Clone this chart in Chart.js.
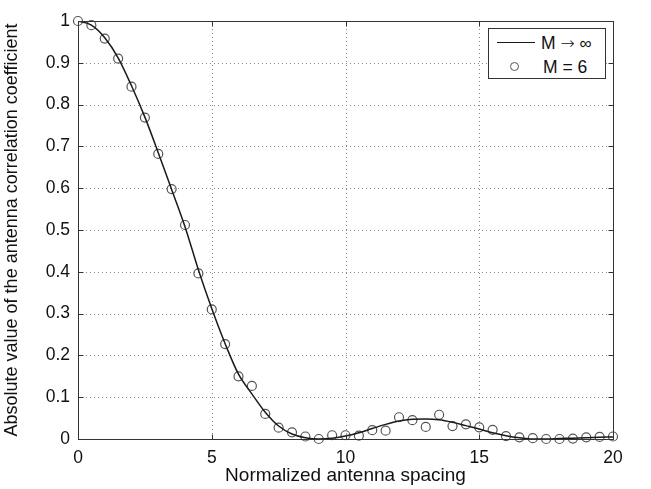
<!DOCTYPE html>
<html><head><meta charset="utf-8">
<script src="https://cdn.jsdelivr.net/npm/chart.js@4.4.0/dist/chart.umd.min.js"></script>
<style>
html,body{margin:0;padding:0;background:#fff;}
#wrap{position:relative;width:651px;height:489px;}
#legend{position:absolute;left:488px;top:28px;width:116px;height:49px;border:1px solid #333;background:#fff;font-family:"Liberation Sans",Arial,sans-serif;font-size:17.5px;color:#111;}
#legend .row{position:absolute;left:0;width:116px;height:22px;line-height:22px;white-space:nowrap;}
#legend .lineSample{position:absolute;left:8px;top:10px;width:38px;border-top:1.5px solid #1a1a1a;}
#legend .circ{position:absolute;left:21px;top:6px;width:7px;height:7px;border:1.2px solid #555;border-radius:50%;}
#legend .txt{position:absolute;left:52px;top:0;}
#legend .sym{font-family:"DejaVu Sans",sans-serif;font-size:17px;font-weight:300;}
</style></head>
<body>
<div id="wrap">
<canvas id="c" width="651" height="489"></canvas>
<div id="legend">
  <div class="row" style="top:3px;"><span class="lineSample"></span><span class="txt">M <span class="sym">→</span> <span class="sym">∞</span></span></div>
  <div class="row" style="top:27px;"><span class="circ"></span><span class="txt" style="left:54px;">M = 6</span></div>
</div>
</div>
<script>
const spacing = [0,0.5,1,1.5,2,2.5,3,3.5,4,4.5,5,5.5,6,6.5,7,7.5,8,8.5,9,9.5,10,10.5,11,11.5,12,12.5,13,13.5,14,14.5,15,15.5,16,16.5,17,17.5,18,18.5,19,19.5,20];
const corrInf = [1.0,0.99,0.96,0.912,0.845,0.77,0.685,0.597,0.508,0.405,0.312,0.228,0.155,0.108,0.064,0.031,0.012,0.003,0.0,0.002,0.007,0.015,0.025,0.035,0.043,0.047,0.048,0.046,0.040,0.032,0.024,0.015,0.008,0.003,0.0,0.0,0.001,0.002,0.003,0.004,0.005];
const corrM6 = [1.0,0.99,0.958,0.91,0.843,0.769,0.682,0.598,0.512,0.396,0.31,0.227,0.15,0.127,0.06,0.027,0.016,0.006,0.0,0.009,0.009,0.008,0.021,0.02,0.052,0.045,0.029,0.058,0.031,0.035,0.028,0.022,0.007,0.004,0.002,0.0,0.0,0.001,0.004,0.005,0.006];
const xTickLabels = ['0','5','10','15','20'];
const yTickLabels = ['0','0.1','0.2','0.3','0.4','0.5','0.6','0.7','0.8','0.9','1'];
const xTitle = 'Normalized antenna spacing';
const yTitle = 'Absolute value of the antenna correlation coefficient';

const FONT = '"Liberation Sans", Arial, sans-serif';

const boxPlugin = {
  id: 'boxPlugin',
  beforeDatasetsDraw(chart) {
    const {ctx, chartArea: a, scales: {x, y}} = chart;
    ctx.save();
    ctx.strokeStyle = '#8a8a8a';
    ctx.lineWidth = 1;
    ctx.setLineDash([1, 3]);
    x.ticks.forEach(t => {
      if (t.value <= x.min || t.value >= x.max) return;
      const px = Math.round(x.getPixelForValue(t.value)) + 0.5;
      ctx.beginPath(); ctx.moveTo(px, a.top); ctx.lineTo(px, a.bottom); ctx.stroke();
    });
    y.ticks.forEach(t => {
      if (t.value <= y.min + 1e-9 || t.value >= y.max - 1e-9) return;
      const py = Math.round(y.getPixelForValue(t.value)) + 0.5;
      ctx.beginPath(); ctx.moveTo(a.left, py); ctx.lineTo(a.right, py); ctx.stroke();
    });
    ctx.restore();
  },
  afterDatasetsDraw(chart) {
    const {ctx, chartArea: a, scales: {x, y}} = chart;
    ctx.save();
    ctx.strokeStyle = '#333';
    ctx.lineWidth = 1;
    ctx.setLineDash([]);
    const L = Math.round(a.left) + 0.5, R = Math.round(a.right) + 0.5;
    const T = Math.round(a.top) + 0.5, B = Math.round(a.bottom) + 0.5;
    ctx.strokeRect(L, T, R - L, B - T);
    const tl = 5;
    x.ticks.forEach(t => {
      const px = Math.round(x.getPixelForValue(t.value)) + 0.5;
      ctx.beginPath(); ctx.moveTo(px, B); ctx.lineTo(px, B - tl); ctx.stroke();
      ctx.beginPath(); ctx.moveTo(px, T); ctx.lineTo(px, T + tl); ctx.stroke();
    });
    y.ticks.forEach(t => {
      const py = Math.round(y.getPixelForValue(t.value)) + 0.5;
      ctx.beginPath(); ctx.moveTo(L, py); ctx.lineTo(L + tl, py); ctx.stroke();
      ctx.beginPath(); ctx.moveTo(R, py); ctx.lineTo(R - tl, py); ctx.stroke();
    });
    ctx.restore();
  }
};

new Chart(document.getElementById('c'), {
  type: 'line',
  data: {
    datasets: [
      {
        label: 'M → ∞',
        data: spacing.map((s, i) => ({x: s, y: corrInf[i]})),
        borderColor: '#1a1a1a',
        borderWidth: 1.5,
        pointRadius: 0,
        fill: false,
        cubicInterpolationMode: 'monotone'
      },
      {
        label: 'M = 6',
        data: spacing.map((s, i) => ({x: s, y: corrM6[i]})),
        showLine: false,
        pointStyle: 'circle',
        pointRadius: 4.5,
        pointBorderWidth: 1.2,
        pointBorderColor: '#555',
        pointBackgroundColor: 'rgba(0,0,0,0)',
        clip: false
      }
    ]
  },
  options: {
    responsive: false,
    animation: false,
    events: [],
    layout: {padding: {left: 0, right: 38, top: 21, bottom: 0}},
    plugins: {legend: {display: false}, tooltip: {enabled: false}},
    scales: {
      x: {
        type: 'linear', min: 0, max: 20,
        grid: {display: false, drawTicks: false},
        border: {display: false},
        ticks: {
          stepSize: 5, padding: 9, color: '#111', maxRotation: 0,
          font: {family: FONT, size: 17.5},
          callback: (v, i) => xTickLabels[i]
        },
        title: {display: true, text: xTitle, color: '#111', font: {family: FONT, size: 19}, padding: {top: 0, bottom: 2}},
        afterFit: s => { s.height = 50; }
      },
      y: {
        type: 'linear', min: 0, max: 1,
        grid: {display: false, drawTicks: false},
        border: {display: false},
        ticks: {
          stepSize: 0.1, padding: 8, color: '#111',
          font: {family: FONT, size: 17.5},
          callback: (v, i) => yTickLabels[i]
        },
        title: {display: true, text: yTitle, color: '#111', font: {family: FONT, size: 18}, padding: {top: 1, bottom: 0}},
        afterFit: s => { s.width = 78; }
      }
    }
  },
  plugins: [boxPlugin]
});
</script>
</body></html>
